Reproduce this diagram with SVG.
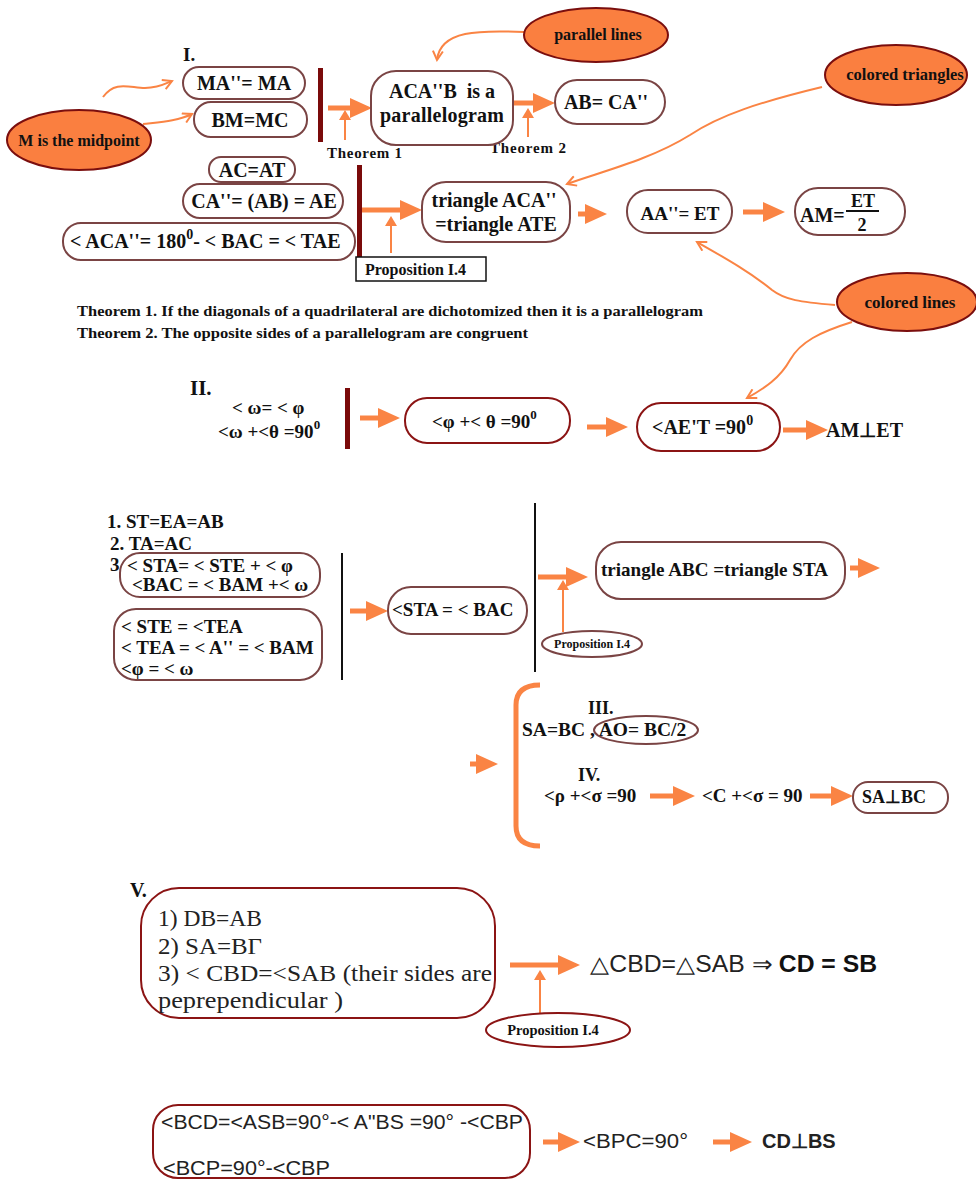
<svg xmlns="http://www.w3.org/2000/svg" width="976" height="1180" viewBox="0 0 976 1180">
<defs>
<style>
.b{font-family:"Liberation Serif","Times New Roman",serif;font-weight:bold;fill:#111}
.r{font-family:"Liberation Serif","Times New Roman",serif;fill:#222}
.s{font-family:"Liberation Sans",Arial,sans-serif;fill:#222}
.pill{fill:#fff;stroke:#7a4444;stroke-width:2}
.pill2{fill:#fff;stroke:#8b1414;stroke-width:2}
.ell{fill:#fa7f40;stroke:#7a0e0e;stroke-width:2}
.bar{fill:#7a0a0a}
.thick{stroke:#fa8444;stroke-width:5;fill:none}
.thin{stroke:#fa8444;stroke-width:2;fill:none}
.vl{stroke:#111;stroke-width:2}
</style>
<marker id="big" viewBox="0 0 22 20" refX="12" refY="10" markerWidth="22" markerHeight="20" markerUnits="userSpaceOnUse" orient="auto">
<path d="M0,0 L22,10 L0,20 z" fill="#fa8444"/>
</marker>
<marker id="open" viewBox="0 0 12 12" refX="10" refY="6" markerWidth="12" markerHeight="12" markerUnits="userSpaceOnUse" orient="auto">
<path d="M1,1 L10,6 L1,11" fill="none" stroke="#fa8444" stroke-width="2"/>
</marker>
<marker id="small" viewBox="0 0 10 12" refX="2" refY="6" markerWidth="10" markerHeight="12" markerUnits="userSpaceOnUse" orient="auto">
<path d="M0,0 L10,6 L0,12 z" fill="#fa8444"/>
</marker>
</defs>
<rect width="976" height="1180" fill="#fff"/>

<g id="connectors">
<path class="thin" d="M103,97 C115,80 130,88 145,88 C158,88 165,84 172,81" marker-end="url(#open)"/>
<path class="thin" d="M143,124 C160,122 178,121 192,114" marker-end="url(#open)"/>
<path class="thin" d="M524,32 C480,30 440,30 437,60" marker-end="url(#open)"/>
<path class="thin" d="M822,87 C760,102 720,115 690,135 C650,160 600,172 567,184" marker-end="url(#open)"/>
<path class="thin" d="M835,305 C800,302 785,300 772,290 C750,272 725,258 697,242" marker-end="url(#open)"/>
<path class="thin" d="M852,322 C820,332 800,342 790,360 C780,378 765,388 747,398" marker-end="url(#open)"/>
<line class="thick" x1="328" y1="108" x2="362" y2="108" marker-end="url(#big)"/>
<line class="thin" x1="345" y1="140" x2="345" y2="118" marker-end="url(#small)"/>
<line class="thick" x1="513" y1="103" x2="545" y2="103" marker-end="url(#big)"/>
<line class="thin" x1="528" y1="137" x2="528" y2="116" marker-end="url(#small)"/>
<line class="thick" x1="362" y1="210" x2="412" y2="210" marker-end="url(#big)"/>
<line class="thin" x1="391" y1="253" x2="391" y2="224" marker-end="url(#small)"/>
<line class="thick" x1="578" y1="214" x2="597" y2="214" marker-end="url(#big)"/>
<line class="thick" x1="743" y1="212" x2="775" y2="212" marker-end="url(#big)"/>
<line class="thick" x1="360" y1="418" x2="390" y2="418" marker-end="url(#big)"/>
<line class="thick" x1="587" y1="427" x2="618" y2="427" marker-end="url(#big)"/>
<line class="thick" x1="783" y1="430" x2="818" y2="430" marker-end="url(#big)"/>
<line class="thick" x1="350" y1="611" x2="378" y2="611" marker-end="url(#big)"/>
<line class="thick" x1="538" y1="577" x2="578" y2="577" marker-end="url(#big)"/>
<line class="thin" x1="563" y1="632" x2="563" y2="588" marker-end="url(#small)"/>
<line class="thick" x1="850" y1="568" x2="870" y2="568" marker-end="url(#big)"/>
<line class="thick" x1="470" y1="764" x2="488" y2="764" marker-end="url(#big)"/>
<line class="thick" x1="650" y1="796" x2="685" y2="796" marker-end="url(#big)"/>
<line class="thick" x1="810" y1="796" x2="843" y2="796" marker-end="url(#big)"/>
<line class="thick" x1="510" y1="965" x2="570" y2="965" marker-end="url(#big)"/>
<line class="thin" x1="540" y1="1015" x2="540" y2="978" marker-end="url(#small)"/>
<line class="thick" x1="543" y1="1142" x2="570" y2="1142" marker-end="url(#big)"/>
<line class="thick" x1="713" y1="1142" x2="742" y2="1142" marker-end="url(#big)"/>
<path d="M540,685 Q516,685 516,705 L516,826 Q516,846 540,846" fill="none" stroke="#fa8444" stroke-width="5"/>
</g>

<g id="section1">
<text class="b" x="183" y="61" font-size="19">I.</text>
<rect class="bar" x="318" y="68" width="5" height="74"/>
<rect class="bar" x="357" y="165" width="5" height="97"/>
<text class="b" x="327" y="158" font-size="15" textLength="75">Theorem 1</text>
<text class="b" x="490" y="153" font-size="15" textLength="76">Theorem 2</text>
</g>

<g id="n-midpoint"><ellipse class="ell" cx="79" cy="140" rx="72" ry="30"/><text class="b" x="79" y="146" font-size="16" text-anchor="middle">M is the midpoint</text></g>
<g id="n-ma"><rect class="pill" x="183" y="67" width="122" height="32" rx="16"/><text class="b" x="244" y="90" font-size="20" text-anchor="middle">MA''= MA</text></g>
<g id="n-bm"><rect class="pill" x="194" y="102" width="113" height="35" rx="17"/><text class="b" x="250" y="127" font-size="20" text-anchor="middle">BM=MC</text></g>
<g id="n-paral"><rect class="pill" x="371" y="71" width="142" height="74" rx="25"/><text class="b" x="442" y="98" font-size="20" text-anchor="middle" xml:space="preserve">ACA''B  is a</text><text class="b" x="442" y="122" font-size="20" text-anchor="middle" textLength="124">parallelogram</text></g>
<g id="n-abca"><rect class="pill" x="555" y="80" width="110" height="44" rx="22"/><text class="b" x="606" y="109" font-size="20" text-anchor="middle">AB= CA''</text></g>
<g id="n-parallel"><ellipse class="ell" cx="596" cy="35" rx="72" ry="27"/><text class="b" x="598" y="40" font-size="16" text-anchor="middle">parallel lines</text></g>
<g id="n-coltri"><ellipse class="ell" cx="896" cy="75" rx="71" ry="30"/><text class="b" x="905" y="80" font-size="16.5" text-anchor="middle">colored triangles</text></g>
<g id="n-acat"><rect class="pill" x="209" y="157" width="86" height="25" rx="12"/><text class="b" x="252" y="177" font-size="20" text-anchor="middle">AC=AT</text></g>
<g id="n-caab"><rect class="pill" x="183" y="184" width="160" height="34" rx="17"/><text class="b" x="264" y="208" font-size="20" text-anchor="middle">CA''= (AB) = AE</text></g>
<g id="n-aca180"><rect class="pill" x="63" y="223" width="292" height="37" rx="18"/><text class="b" x="70" y="248" font-size="20">&lt; ACA''= 180<tspan dy="-9" font-size="14">0</tspan><tspan dy="9">- &lt; BAC = &lt; TAE</tspan></text></g>
<g id="n-prop1"><rect x="356" y="257" width="130" height="24" fill="#fff" stroke="#111" stroke-width="1.5"/><text class="b" x="365" y="275" font-size="16">Proposition I.4</text></g>
<g id="n-tri1"><rect class="pill" x="422" y="182" width="148" height="60" rx="24"/><text class="b" x="494" y="207" font-size="20" text-anchor="middle">triangle ACA''</text><text class="b" x="496" y="231" font-size="20" text-anchor="middle">=triangle ATE</text></g>
<g id="n-aaet"><rect class="pill" x="627" y="190" width="105" height="43" rx="21"/><text class="b" x="680" y="220" font-size="19" text-anchor="middle">AA''= ET</text></g>
<g id="n-amet"><rect class="pill" x="795" y="188" width="110" height="47" rx="23"/><text class="b" x="800" y="222" font-size="20">AM=</text><text class="b" x="863" y="207" font-size="18" text-anchor="middle">ET</text><line x1="846" y1="211" x2="879" y2="211" stroke="#111" stroke-width="2"/><text class="b" x="862" y="231" font-size="18" text-anchor="middle">2</text></g>
<g id="n-collines"><ellipse class="ell" cx="907" cy="302" rx="70" ry="29"/><text class="b" x="910" y="308" font-size="17" text-anchor="middle">colored lines</text></g>

<g id="theorems">
<text class="b" x="77" y="316" font-size="15" textLength="626" lengthAdjust="spacingAndGlyphs">Theorem 1. If the diagonals of a quadrilateral are dichotomized then it is a parallelogram</text>
<text class="b" x="77" y="338" font-size="15" textLength="451" lengthAdjust="spacingAndGlyphs">Theorem 2. The opposite sides of a parallelogram are congruent</text>
</g>

<g id="section2">
<text class="b" x="190" y="395" font-size="21">II.</text>
<text class="b" x="232" y="414" font-size="19">&lt; ω= &lt; φ</text>
<text class="b" x="218" y="438" font-size="19">&lt;ω +&lt;θ =90<tspan dy="-9" font-size="13">0</tspan></text>
<rect class="bar" x="345" y="388" width="5" height="61"/>
</g>
<g id="n-phitheta"><rect class="pill2" x="405" y="398" width="165" height="45" rx="22"/><text class="b" x="432" y="428" font-size="19">&lt;φ +&lt; θ =90<tspan dy="-9" font-size="13">0</tspan></text></g>
<g id="n-aet"><rect class="pill2" x="637" y="403" width="143" height="48" rx="24"/><text class="b" x="652" y="434" font-size="20">&lt;AE'T =90<tspan dy="-9" font-size="14">0</tspan></text></g>
<g id="n-amperp"><text class="b" x="826" y="437" font-size="20">AM⊥ET</text></g>

<g id="section3">
<text class="b" x="107" y="528" font-size="19">1. ST=EA=AB</text>
<text class="b" x="110" y="550" font-size="19">2. TA=AC</text>
<text class="b" x="110" y="571" font-size="19">3.</text>
<line class="vl" x1="342" y1="553" x2="342" y2="680"/>
<line class="vl" x1="535" y1="503" x2="535" y2="672"/>
</g>
<g id="n-sta"><rect class="pill" x="120" y="553" width="200" height="44" rx="20"/><text class="b" x="127" y="572" font-size="19">&lt; STA= &lt; STE + &lt; φ</text><text class="b" x="132" y="591" font-size="19">&lt;BAC = &lt; BAM +&lt; ω</text></g>
<g id="n-ste"><rect class="pill" x="114" y="609" width="208" height="71" rx="22"/><text class="b" x="121" y="633" font-size="19">&lt; STE = &lt;TEA</text><text class="b" x="121" y="654" font-size="19">&lt; TEA = &lt; A'' = &lt; BAM</text><text class="b" x="121" y="675" font-size="19">&lt;φ = &lt; ω</text></g>
<g id="n-stabac"><rect class="pill" x="388" y="587" width="139" height="47" rx="23"/><text class="b" x="392" y="616" font-size="19">&lt;STA = &lt; BAC</text></g>
<g id="n-triabc"><rect class="pill" x="596" y="542" width="249" height="57" rx="25"/><text class="b" x="601" y="576" font-size="19" textLength="227" lengthAdjust="spacingAndGlyphs">triangle ABC =triangle STA</text></g>
<g id="n-prop2"><ellipse class="pill" cx="592" cy="644" rx="50" ry="13"/><text class="b" x="592" y="648" font-size="12" text-anchor="middle">Proposition I.4</text></g>

<g id="section34">
<text class="b" x="588" y="714" font-size="18">III.</text>
<text class="b" x="522" y="736" font-size="19.5">SA=BC , AO= BC/2</text>
<text class="b" x="578" y="781" font-size="18">IV.</text>
<text class="b" x="544" y="802" font-size="19">&lt;ρ +&lt;σ =90</text>
<text class="b" x="702" y="802" font-size="19">&lt;C +&lt;σ = 90</text>
</g>
<g id="n-ao"><ellipse cx="646" cy="730" rx="52" ry="14" fill="none" stroke="#7a4444" stroke-width="2"/></g>
<g id="n-sabc"><rect class="pill" x="853" y="782" width="95" height="31" rx="15"/><text class="b" x="862" y="803" font-size="18">SA⊥BC</text></g>

<g id="section5">
<text class="b" x="130" y="897" font-size="20">V.</text>
</g>
<g id="n-v"><rect class="pill2" x="141" y="888" width="354" height="130" rx="38"/>
<text class="r" x="158" y="926" font-size="23" textLength="104" lengthAdjust="spacingAndGlyphs">1) DB=AB</text>
<text class="r" x="158" y="954" font-size="23" textLength="104" lengthAdjust="spacingAndGlyphs">2) SA=ΒΓ</text>
<text class="r" x="158" y="981" font-size="23" textLength="334" lengthAdjust="spacingAndGlyphs">3) &lt; CBD=&lt;SAB (their sides are</text>
<text class="r" x="158" y="1008" font-size="23" textLength="185" lengthAdjust="spacingAndGlyphs">peprependicular )</text></g>
<g id="n-prop3"><ellipse class="pill2" cx="558" cy="1030" rx="72" ry="17"/><text class="b" x="553" y="1035" font-size="14.5" text-anchor="middle">Proposition I.4</text></g>
<g id="n-cbd"><text class="s" x="590" y="972" font-size="23" textLength="287" lengthAdjust="spacingAndGlyphs">△CBD=△SAB ⇒ <tspan font-weight="bold" fill="#111">CD = SB</tspan></text></g>

<g id="n-bcd"><rect class="pill2" x="153" y="1105" width="377" height="73" rx="25"/>
<text class="s" x="161" y="1129" font-size="20" textLength="362" lengthAdjust="spacingAndGlyphs">&lt;BCD=&lt;ASB=90°-&lt; A"BS =90° -&lt;CBP</text>
<text class="s" x="163" y="1175" font-size="20" textLength="167" lengthAdjust="spacingAndGlyphs">&lt;BCP=90°-&lt;CBP</text></g>
<g id="n-bpc"><text class="s" x="583" y="1148" font-size="20" textLength="105" lengthAdjust="spacingAndGlyphs">&lt;BPC=90°</text></g>
<g id="n-cdbs"><text class="s" x="762" y="1148" font-size="20" font-weight="bold" fill="#111">CD⊥BS</text></g>
</svg>
